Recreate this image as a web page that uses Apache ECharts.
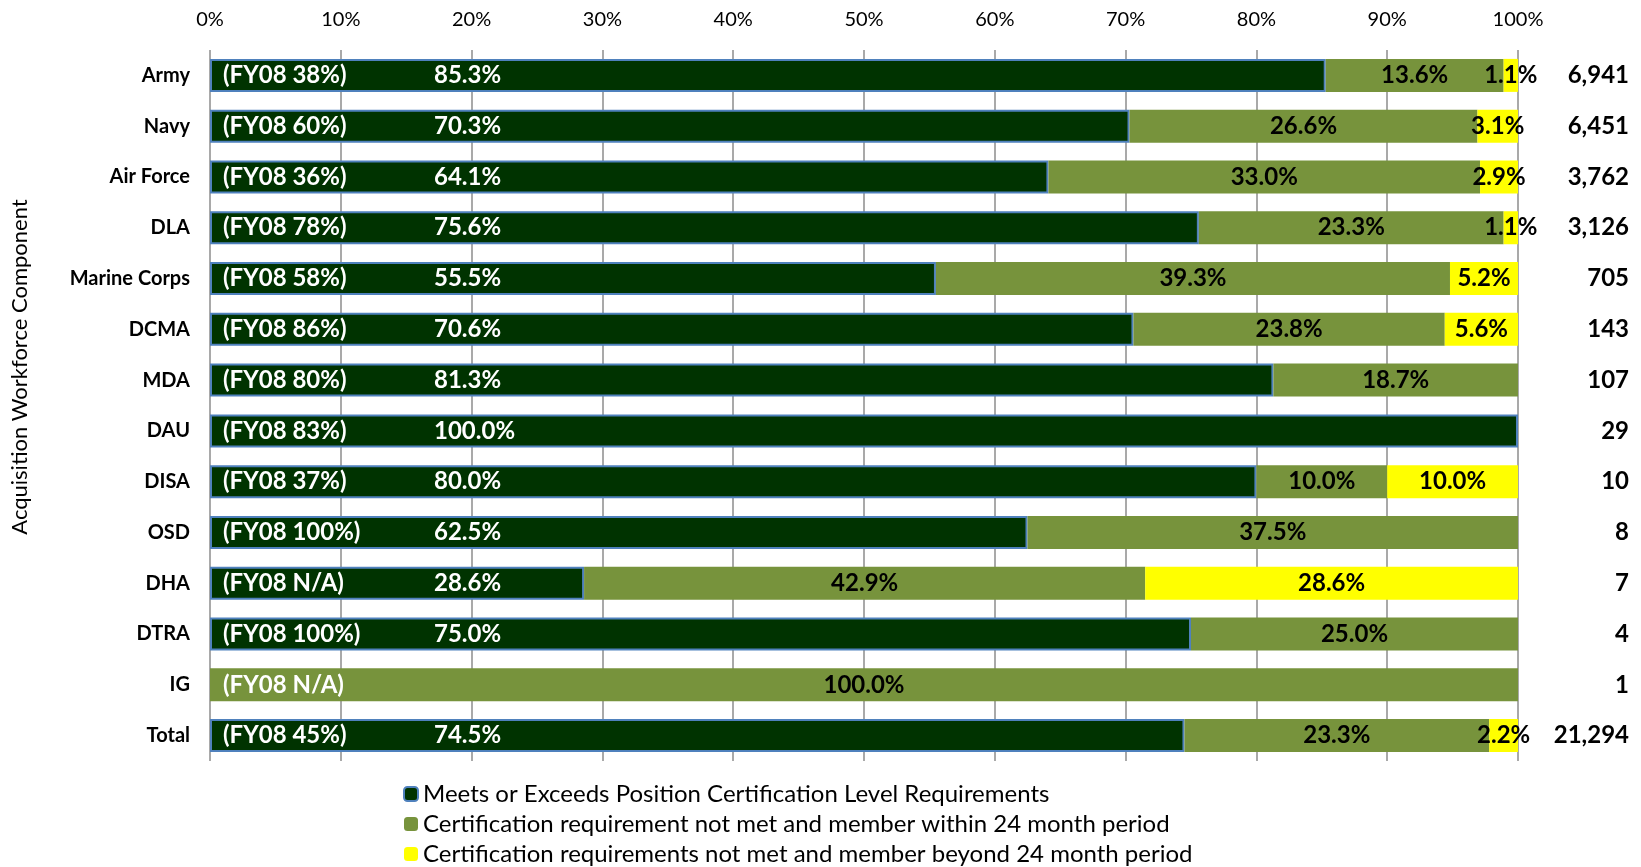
<!DOCTYPE html>
<html>
<head>
<meta charset="utf-8">
<script src="https://cdn.jsdelivr.net/npm/echarts@6/dist/echarts.min.js"></script>
<style>
  html, body { margin: 0; padding: 0; background: #fff; }
  #chart { width: 1641px; height: 867px; }
</style>
</head>
<body>
<div id="chart"></div>
<script>
// 各组成部分
const categories = ['Army', 'Navy', 'Air Force', 'DLA', 'Marine Corps', 'DCMA', 'MDA', 'DAU', 'DISA', 'OSD', 'DHA', 'DTRA', 'IG', 'Total']
const fy08 = ['38%', '60%', '36%', '78%', '58%', '86%', '80%', '83%', '37%', '100%', 'N/A', '100%', 'N/A', '45%']
const meets = [85.3, 70.3, 64.1, 75.6, 55.5, 70.6, 81.3, 100.0, 80.0, 62.5, 28.6, 75.0, 0, 74.5]
const within = [13.6, 26.6, 33.0, 23.3, 39.3, 23.8, 18.7, 0, 10.0, 37.5, 42.9, 25.0, 100.0, 23.3]
const beyond = [1.1, 3.1, 2.9, 1.1, 5.2, 5.6, 0, 0, 10.0, 0, 28.6, 0, 0, 2.2]
const counts = ['6,941', '6,451', '3,762', '3,126', '705', '143', '107', '29', '10', '8', '7', '4', '1', '21,294']
const full = categories.map(() => 100)

const seriesNames = [
  'Meets or Exceeds Position Certification Level Requirements',
  'Certification requirement not met and member within 24 month period',
  'Certification requirements not met and member beyond 24 month period'
]

const FONT = 'Lato, "Open Sans", sans-serif'
const chart = echarts.init(document.getElementById('chart'))

const pctLabel = color => ({
  show: true,
  position: 'inside',
  color: color,
  fontFamily: FONT,
  fontWeight: 'bold',
  fontSize: 24,
  formatter: p => p.value > 0 ? p.value.toFixed(1) + '%' : ''
})

const option = {
  animation: false,
  grid: { left: 210, right: 123, top: 50, bottom: 106 },
  legend: {
    orient: 'vertical',
    left: 403,
    top: 782,
    padding: 0,
    itemWidth: 14,
    itemHeight: 14,
    itemGap: 6,
    data: seriesNames,
    textStyle: { fontFamily: FONT, fontSize: 24, color: '#000', lineHeight: 24 }
  },
  graphic: [{
    type: 'text',
    x: 20,
    y: 367,
    rotation: Math.PI / 2,
    style: {
      text: 'Acquisition Workforce Component',
      font: '22px ' + FONT,
      fill: '#000',
      textAlign: 'center',
      textVerticalAlign: 'middle'
    }
  }],
  xAxis: {
    type: 'value',
    position: 'top',
    min: 0,
    max: 100,
    interval: 10,
    axisLine: { show: false },
    axisTick: { show: false },
    axisLabel: { formatter: '{value}%', margin: 20, fontFamily: FONT, fontSize: 20, color: '#000' },
    splitLine: { show: true, lineStyle: { color: '#8c8c8c', width: 1.5 } }
  },
  yAxis: [
    {
      type: 'category',
      data: categories,
      inverse: true,
      axisLine: { show: false },
      axisTick: { show: false },
      axisLabel: { margin: 20, fontFamily: FONT, fontWeight: 'bold', fontSize: 20, color: '#000' }
    },
    {
      type: 'category',
      data: counts,
      inverse: true,
      position: 'right',
      axisLine: { show: false },
      axisTick: { show: false },
      axisLabel: {
        align: 'right',
        margin: 111,
        padding: [6, 0, 0, 0],
        fontFamily: FONT,
        fontWeight: 'bold',
        fontSize: 24,
        color: '#000'
      }
    }
  ],
  series: [
    {
      name: seriesNames[0],
      type: 'bar',
      stack: 'cert',
      barWidth: 33,
      data: meets.map(v => ({ value: v, itemStyle: { borderWidth: v > 0 ? 2 : 0 } })),
      itemStyle: { color: '#003300', borderColor: '#4F81BD', borderWidth: 2 },
      label: { show: false }
    },
    {
      name: seriesNames[1],
      type: 'bar',
      stack: 'cert',
      barWidth: 33,
      data: within,
      itemStyle: { color: '#77933C' },
      label: pctLabel('#000')
    },
    {
      name: seriesNames[2],
      type: 'bar',
      stack: 'cert',
      barWidth: 33,
      data: beyond,
      itemStyle: { color: '#FFFF00' },
      label: pctLabel('#000')
    },
    // 透明的标签层：FY08 与达标比例
    {
      name: 'labels',
      type: 'bar',
      barWidth: 33,
      barGap: '-100%',
      silent: true,
      z: 5,
      data: full,
      itemStyle: { color: 'rgba(0,0,0,0)' },
      label: {
        show: true,
        position: 'insideLeft',
        distance: 13,
        color: '#fff',
        fontFamily: FONT,
        fontWeight: 'bold',
        fontSize: 24,
        formatter: p => {
          const i = p.dataIndex
          const head = '{a|(FY08 ' + fy08[i] + ')}'
          return meets[i] > 0 ? head + '{b|' + meets[i].toFixed(1) + '%}' : head
        },
        rich: {
          a: { width: 211, color: '#fff', fontFamily: FONT, fontWeight: 'bold', fontSize: 24 },
          b: { color: '#fff', fontFamily: FONT, fontWeight: 'bold', fontSize: 24 }
        }
      }
    }
  ]
}

chart.setOption(option)
</script>
</body>
</html>
